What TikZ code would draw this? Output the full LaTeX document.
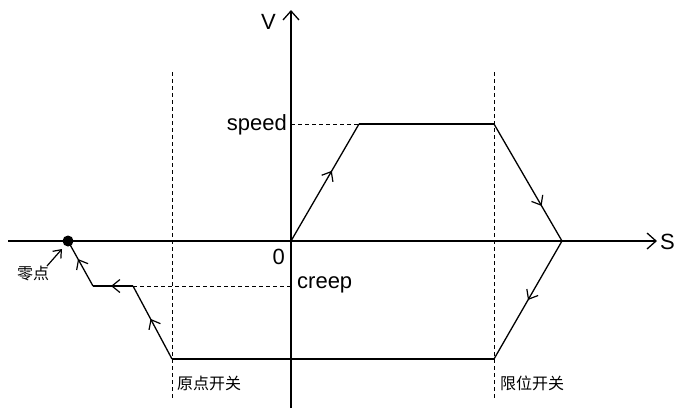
\documentclass[tikz,border=0pt]{standalone}
\usepackage{fontspec}
\setmainfont{Liberation Sans}
\newfontfamily\cjk{Noto Sans CJK SC}
\usetikzlibrary{arrows.meta,decorations.markings}
\tikzset{
  axis/.style={line width=1.3pt,-{Straight Barb[length=9pt,width=16pt,line width=1.3pt]}},
  curve/.style={line width=1.3pt},
  guide/.style={line width=1pt,dash pattern=on 4pt off 3pt},
  midarrow/.style={postaction={decorate},decoration={markings,mark=at position #1 with {\arrow{Straight Barb[length=8pt,width=13pt,line width=1.2pt]}}}},
  lbl/.style={font=\fontsize{22}{24}\selectfont,inner sep=0pt},
  cjklbl/.style={font=\cjk\fontsize{16}{18}\selectfont,inner sep=0pt},
}
\begin{document}
\begin{tikzpicture}[x=1pt,y=-1pt]
\useasboundingbox (0,0) rectangle (681,416);
% coordinates
\coordinate (sL) at (8,241);
\coordinate (sR) at (657,241);
\coordinate (vB) at (291,408);
\coordinate (vT) at (291,10);
\coordinate (O) at (291,241);
\coordinate (p1) at (359,124);
\coordinate (p2) at (494,124);
\coordinate (p3) at (562,241);
\coordinate (p4) at (494,359);
\coordinate (p5) at (172,359);
\coordinate (p6) at (133,286);
\coordinate (p7) at (93,286);
\coordinate (zero) at (68,241);
\coordinate (spd) at (291,124);
\coordinate (crp) at (291,286);
\coordinate (d1t) at (172,72);
\coordinate (d1b) at (172,398);
\coordinate (d2t) at (494,72);
\coordinate (d2b) at (494,398);
\coordinate (za) at (47,266);
\coordinate (zb) at (62,249);
% axes
\draw[axis] (sL) -- (sR);
\draw[axis] (vB) -- (vT);
% dashed guides
\draw[guide] (d1t) -- (d1b);
\draw[guide] (d2t) -- (d2b);
\draw[guide] (spd) -- (p1);
\draw[guide] (p6) -- (crp);
% profile
\draw[curve,midarrow=0.6] (O) -- (p1);
\draw[curve] (p1) -- (p2);
\draw[curve,midarrow=0.7] (p2) -- (p3);
\draw[curve,midarrow=0.5] (p3) -- (p4);
\draw[curve] (p4) -- (p5);
\draw[curve,midarrow=0.55] (p5) -- (p6);
\draw[curve,midarrow=0.55] (p6) -- (p7);
\draw[curve,midarrow=0.6] (p7) -- (zero);
\fill (zero) circle (5.5pt);
\draw[line width=1.2pt,-{Straight Barb[length=7pt,width=11pt,line width=1.2pt]}] (za) -- (zb);
% labels
\node[lbl,anchor=south west] (lv) at (261,30) {V};
\node[lbl,anchor=west] (ls) at (660,242) {S};
\node[lbl,anchor=east] (l0) at (285,257) {0};
\node[lbl,anchor=east] (lsp) at (287,125) {speed};
\node[lbl,anchor=west] (lcr) at (297,285) {creep};
\node[cjklbl] (lz) at (33,273) {零点};
\node[cjklbl,anchor=west] (ly) at (177,383) {原点开关};
\node[cjklbl,anchor=west] (lx) at (500,383) {限位开关};
\end{tikzpicture}
\end{document}
